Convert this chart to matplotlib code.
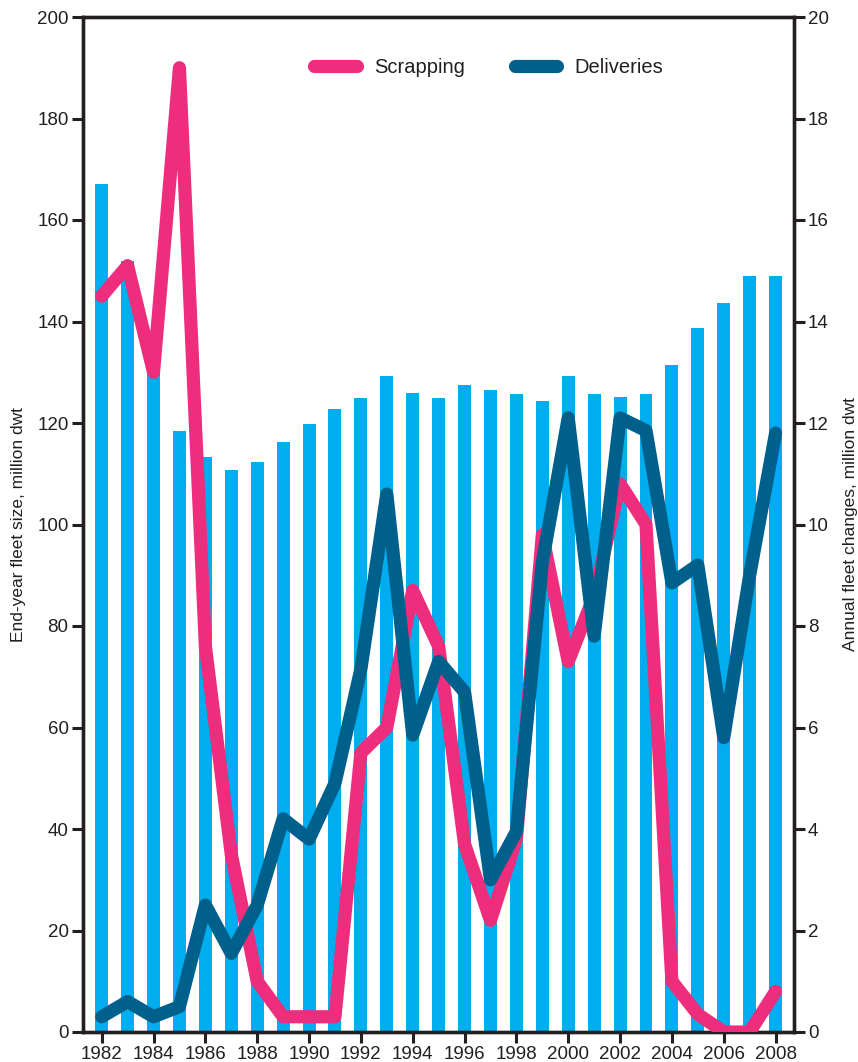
import matplotlib
matplotlib.use("Agg")
import matplotlib.pyplot as plt
from matplotlib.lines import Line2D

plt.rcParams['font.family'] = ['Liberation Sans Narrow', 'Liberation Sans', 'DejaVu Sans']

years = list(range(1982, 2009))
fleet_size = [167, 152, 131, 118.4, 113.3, 110.7, 112.3, 116.3, 119.8, 122.8,
              124.9, 129.3, 125.9, 124.9, 127.5, 126.5, 125.7, 124.3, 129.3, 125.7,
              125.1, 125.7, 131.4, 138.7, 143.6, 149, 149]
scrapping = [14.5, 15.1, 13.0, 19.0, 7.6, 3.5, 1.0, 0.3, 0.3, 0.3,
             5.5, 6.0, 8.7, 7.6, 3.7, 2.2, 3.8, 9.8, 7.3, 8.6,
             10.8, 10.0, 1.0, 0.35, 0.0, 0.0, 0.8]
deliveries = [0.3, 0.6, 0.3, 0.5, 2.5, 1.55, 2.5, 4.2, 3.8, 4.9,
              7.15, 10.6, 5.85, 7.3, 6.7, 3.0, 3.95, 9.25, 12.1, 7.8,
              12.1, 11.85, 8.85, 9.2, 5.8, 9.0, 11.8]
year_ticks = list(range(1982, 2009, 2))
left_ticks = list(range(0, 201, 20))
right_ticks = list(range(0, 21, 2))

BAR = '#00ADEE'
PINK = '#EE2D7D'
NAVY = '#00608C'
INK = '#231F20'

W, H = 858, 1062
fig = plt.figure(figsize=(W / 100, H / 100), dpi=100)
x0, x1, y0, y1 = 82.5, 794, 17, 1032
ax = fig.add_axes([x0 / W, 1 - y1 / H, (x1 - x0) / W, (y1 - y0) / H])

ax.bar(years, fleet_size, width=0.5, color=BAR, zorder=1)
ax.set_xlim(1981.26, 2008.71)
ax.set_ylim(0, 200)
ax.set_yticks(left_ticks)
ax.set_xticks(year_ticks)

ax2 = ax.twinx()
ax2.set_ylim(0, 20)
ax2.set_yticks(right_ticks)
ax2.plot(years, scrapping, color=PINK, lw=9.5, solid_capstyle='round',
         solid_joinstyle='round', zorder=3)
ax2.plot(years, deliveries, color=NAVY, lw=9.5, solid_capstyle='round',
         solid_joinstyle='round', zorder=4)

for a in (ax, ax2):
    for s in a.spines.values():
        s.set_color(INK)
        s.set_linewidth(2.4)
    a.tick_params(colors=INK, labelsize=13.5, width=2.2, length=8, pad=2,
                  direction='out')
    a.patch.set_visible(False)

ax.set_ylabel('End-year fleet size, million dwt', fontsize=12.5, color=INK,
              labelpad=8)
ax2.set_ylabel('Annual fleet changes, million dwt', fontsize=12.5, color=INK,
               rotation=90, labelpad=10)

handles = [Line2D([], [], color=PINK, lw=9.5, solid_capstyle='round'),
           Line2D([], [], color=NAVY, lw=9.5, solid_capstyle='round')]
ax2.legend(handles, ['Scrapping', 'Deliveries'], ncol=2, frameon=False,
           fontsize=14.5, loc='center', bbox_to_anchor=(0.571, 0.95),
           handlelength=2.1, columnspacing=2.5, handletextpad=0.85,
           labelcolor=INK)

fig.savefig('out.png', dpi=100)
